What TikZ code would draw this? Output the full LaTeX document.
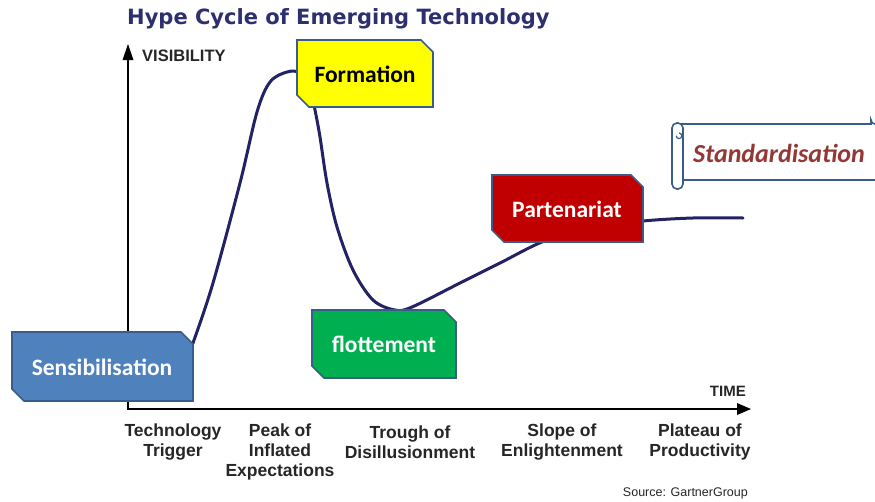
\documentclass[tikz,border=0pt]{standalone}
\usepackage{fontspec}
\setmainfont{Carlito}
\newfontfamily\arialf{Liberation Sans}
\newfontfamily\verdf{DejaVu Sans}
\definecolor{titlecol}{RGB}{45,47,110}
\definecolor{curvecol}{RGB}{34,34,100}
\definecolor{edgecol}{RGB}{56,93,138}
\definecolor{sensfill}{RGB}{79,129,189}
\definecolor{formfill}{RGB}{255,255,0}
\definecolor{partfill}{RGB}{192,0,0}
\definecolor{flotfill}{RGB}{0,176,80}
\definecolor{stdtext}{RGB}{149,55,53}
\tikzset{
  snipbox/.style={draw=edgecol, line width=1.6pt, line join=miter},
  boxtext/.style={font=\fontsize{23.5}{26}\selectfont\bfseries, inner sep=0pt},
  axislabel/.style={font=\arialf\fontsize{17.5}{20}\selectfont\bfseries, align=center, inner sep=0pt, text=black!85},
  axisline/.style={line width=2.5pt, black},
}
\newcommand{\snip}[5]{% x1 y1 x2 y2 fill
  \draw[snipbox, fill=#5] (#1,#2) -- ({#3-12},#2) -- (#3,{#2+12}) -- (#3,#4) -- ({#1+12},#4) -- (#1,{#4-12}) -- cycle;}
\begin{document}
\begin{tikzpicture}[x=1pt,y=-1pt]
\clip (0,0) rectangle (875,501);
\fill[white] (0,0) rectangle (875,501);
% title
\node[font=\verdf\fontsize{21}{23}\selectfont\bfseries, text=titlecol, anchor=west, inner sep=0pt] (title) at (127,19) {Hype Cycle of Emerging Technology};
% axes
\draw[axisline] (128,60) -- (128,409) -- (738,409);
\fill[black] (128,44) -- (122.5,60) -- (133.5,60) -- cycle;
\fill[black] (751,409) -- (737,403) -- (737,415) -- cycle;
\node[font=\arialf\fontsize{16.5}{18}\selectfont\bfseries, anchor=west, inner sep=0pt, text=black!85] (vis) at (142,56) {VISIBILITY};
\node[font=\arialf\fontsize{15}{16}\selectfont\bfseries, anchor=east, inner sep=0pt, text=black!85] (time) at (746,391) {TIME};
% curve
\draw[curvecol, line width=3pt, line cap=round] plot[smooth, tension=0.55] coordinates {
 (186,360) (193,343) (213,283) (240,183) (257,112) (270,82) (287,72) (300,73) (310,88)
 (315,110) (320,137) (327,183) (337,227) (353,270) (373,300) (395,310) (412,307)
 (460,283) (500,263) (547,240) (600,227) (643,221) (693,218) (743,218)};
% boxes
\snip{12}{332}{193}{401}{sensfill}
\node[boxtext, text=white] (sens) at (102,367) {Sensibilisation};
\snip{297}{40}{433}{107}{formfill}
\node[boxtext, text=black] (form) at (365,74) {Formation};
\snip{492}{175}{643}{242}{partfill}
\node[boxtext, text=white] (part) at (567,209) {Partenariat};
\snip{312}{310}{456}{378}{flotfill}
\node[boxtext, text=white] (flot) at (384,344) {flottement};
% scroll
\fill[white] (683,124) rectangle (880,180);
\draw[edgecol, line width=1.6pt] (678,124) -- (871,124) -- (871,120) arc[start angle=180, end angle=90, radius=4] -- (885,116);
\draw[edgecol, line width=1.6pt] (683,180) -- (885,180);
\draw[edgecol, line width=1.6pt, fill=white, rounded corners=5pt] (672,123) rectangle (683,189);
\draw[edgecol, line width=1.2pt] (679,133) arc[start angle=-90, end angle=180, radius=2.8];
\node[font=\fontsize{26}{28}\selectfont\bfseries\itshape, text=stdtext, inner sep=0pt] (std) at (779,153) {Standardisation};
% phase labels
\node[axislabel] (trig) at (173,442) {Technology\\Trigger};
\node[axislabel] (peak) at (280,452) {Peak of\\Inflated\\Expectations};
\node[axislabel] (trough) at (410,442) {Trough of\\Disillusionment};
\node[axislabel] (slope) at (562,442) {Slope of\\Enlightenment};
\node[axislabel] (plat) at (700,442) {Plateau of\\Productivity};
\node[font=\arialf\fontsize{12.5}{13}\selectfont, anchor=east, inner sep=0pt, text=black!85] (src) at (748,493) {Source: GartnerGroup};
\end{tikzpicture}
\end{document}
